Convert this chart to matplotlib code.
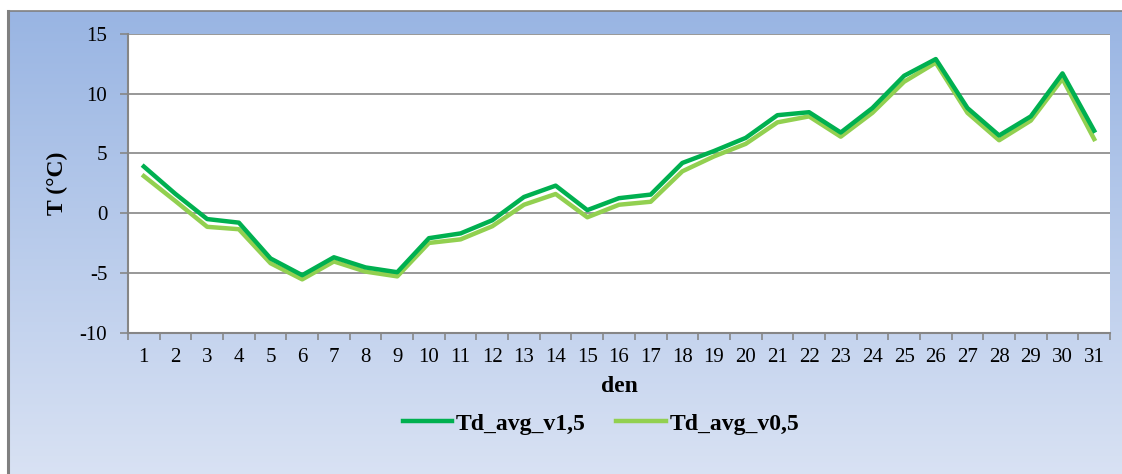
import numpy as np
import matplotlib
matplotlib.use("Agg")
import matplotlib.pyplot as plt
from matplotlib.lines import Line2D

days = [str(d) for d in range(1, 32)]
td_v15 = [3.9, 1.6, -0.5, -0.8, -3.8, -5.2, -3.7, -4.55, -4.95, -2.1, -1.7, -0.6, 1.35, 2.3, 0.25,
          1.25, 1.55, 4.2, 5.2, 6.3, 8.2, 8.45, 6.75, 8.8, 11.5, 12.9, 8.8, 6.5, 8.1, 11.7, 6.9]
td_v05 = [3.1, 1.0, -1.15, -1.35, -4.2, -5.55, -4.05, -4.9, -5.3, -2.5, -2.2, -1.1, 0.7, 1.6, -0.35,
          0.7, 0.95, 3.5, 4.75, 5.8, 7.6, 8.1, 6.4, 8.4, 11.0, 12.6, 8.4, 6.1, 7.75, 11.25, 6.2]
series_names = ["Td_avg_v1,5", "Td_avg_v0,5"]
series_colors = ["#00B050", "#92D050"]
y_ticks = [-10, -5, 0, 5, 10, 15]

W, H = 1122, 474
fig = plt.figure(figsize=(W / 100, H / 100), dpi=100)
fig.patch.set_facecolor("white")
plt.rcParams["font.family"] = ["Liberation Serif", "DejaVu Serif"]

# gradient background
bx0, by_top = 8 / W, 11 / H
bg = fig.add_axes([bx0, 0, 1 - bx0, 1 - by_top], zorder=0)
ny, nx = 200, 200
t = np.linspace(0, 1, ny)[:, None]
s = np.linspace(0, 1, nx)[None, :]
top = np.array([0.60, 0.71, 0.89])
bot = np.array([0.87, 0.90, 0.96])
mix = np.clip(t * 0.92 + s * 0.0, 0, 1)
img = top[None, None, :] * (1 - mix[..., None]) + bot[None, None, :] * mix[..., None]
bg.imshow(img, aspect="auto", extent=[0, 1, 0, 1], origin="upper")
bg.set_xlim(0, 1); bg.set_ylim(0, 1)
bg.axis("off")
fig.add_artist(Line2D([bx0, bx0], [0, 1 - by_top], color="#808080", lw=2.2, transform=fig.transFigure, zorder=1))
fig.add_artist(Line2D([bx0, 1], [1 - by_top, 1 - by_top], color="#808080", lw=1.2, transform=fig.transFigure, zorder=1))

left, right = 128 / W, 1110 / W
top_y, bot_y = 1 - 34 / H, 1 - 332.5 / H
ax = fig.add_axes([left, bot_y, right - left, top_y - bot_y], zorder=2)
ax.set_facecolor("white")

x = np.arange(len(days))
ax.plot(x, td_v15, color=series_colors[0], lw=3.2, label=series_names[0], zorder=4, solid_joinstyle="round")
ax.plot(x, td_v05, color=series_colors[1], lw=3.2, label=series_names[1], zorder=3, solid_joinstyle="round")

ax.set_xlim(-0.5, len(days) - 0.5)
ax.set_ylim(-10, 15)
ax.set_yticks(y_ticks)
ax.set_yticklabels([str(v) for v in y_ticks], fontsize=15)
ax.yaxis.grid(True, color="#868686", lw=1.2)
ax.set_axisbelow(True)

ax.set_xticks(x)
ax.set_xticklabels(days, fontsize=15)
ax.set_xticks(np.arange(-0.5, len(days), 1), minor=True)
ax.tick_params(axis="x", which="major", length=0, pad=11)
ax.tick_params(axis="x", which="minor", length=5, width=1.2, color="#868686")
ax.tick_params(axis="y", which="major", length=6, width=1.2, color="#868686", pad=9)

for side in ["top", "right"]:
    ax.spines[side].set_visible(False)
for side in ["left", "bottom"]:
    ax.spines[side].set_color("#868686")
    ax.spines[side].set_linewidth(1.5)

fig.text(57 / W, 1 - 183 / H, "T (°C)", rotation=90, fontsize=17, fontweight="bold",
         ha="center", va="center")
fig.text(619 / W, 1 - 387 / H, "den", fontsize=17, fontweight="bold", ha="center", va="center")

leg = fig.legend(loc="center", bbox_to_anchor=(601 / W, 1 - 424 / H), ncol=2, frameon=False,
                 prop={"size": 17, "weight": "bold"}, handlelength=2.1, handletextpad=0.15,
                 columnspacing=1.3)

fig.savefig("out.png", dpi=100)
